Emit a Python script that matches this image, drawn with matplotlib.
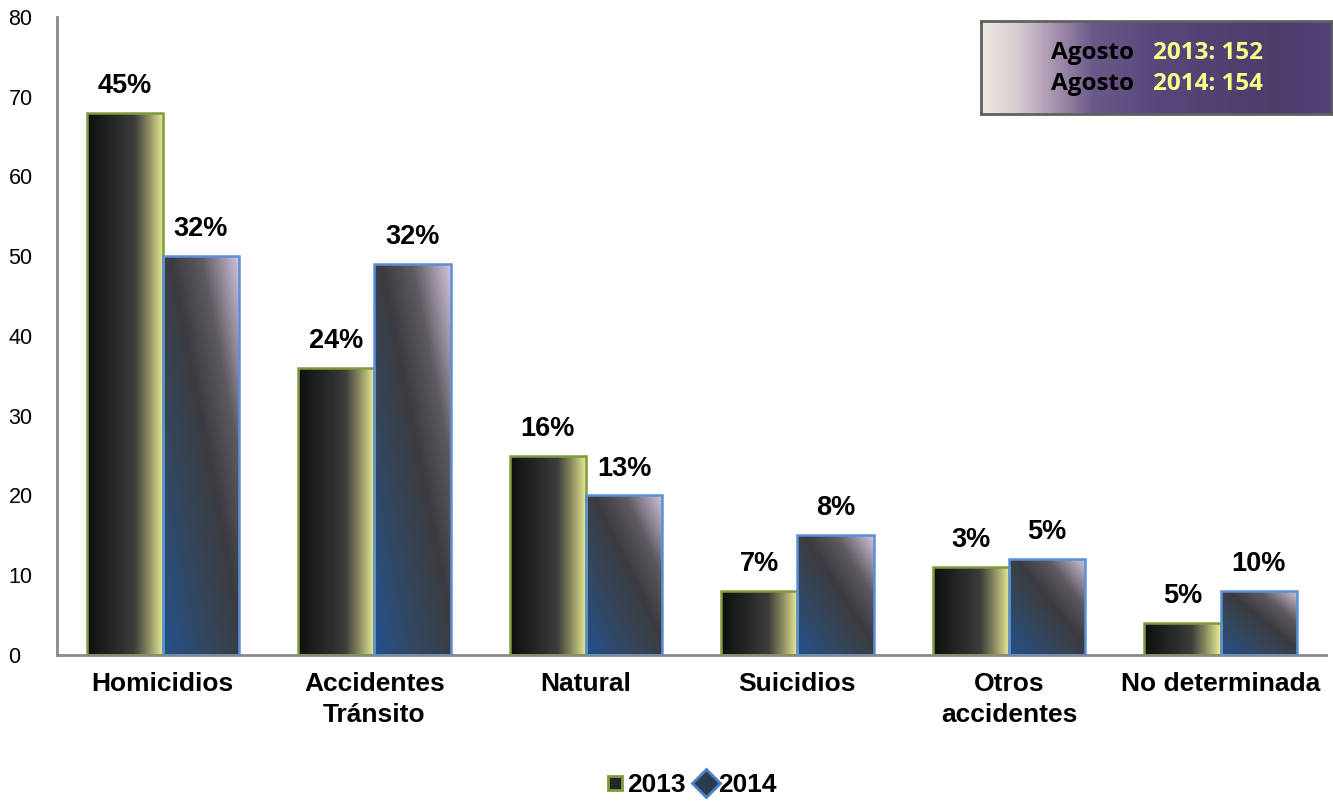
import numpy as np
import matplotlib.pyplot as plt
from matplotlib.colors import LinearSegmentedColormap
from matplotlib.lines import Line2D

# Data
categories = ["Homicidios", "Accidentes\nTránsito", "Natural", "Suicidios",
              "Otros\naccidentes", "No determinada"]
values_2013 = [68, 36, 25, 8, 11, 4]
values_2014 = [50, 49, 20, 15, 12, 8]
labels_2013 = ["45%", "24%", "16%", "7%", "3%", "5%"]
labels_2014 = ["32%", "32%", "13%", "8%", "5%", "10%"]
totals = ["2013: 152", "2014: 154"]

plt.rcParams['font.family'] = ['Liberation Sans', 'DejaVu Sans']

cmap_2013 = LinearSegmentedColormap.from_list(
    "c2013", [(0, "#0e0e0e"), (0.45, "#2e3030"), (0.62, "#3e3e3c"),
              (0.8, "#8a8a62"), (1.0, "#ecec96")])
cmap_2014 = LinearSegmentedColormap.from_list(
    "c2014", [(0, "#23508c"), (0.3, "#34475e"), (0.55, "#3c3c40"),
              (0.75, "#5e5a60"), (1.0, "#d0c2dc")])
cmap_box = LinearSegmentedColormap.from_list(
    "cbox", [(0, "#ece8e0"), (0.1, "#d8ccd0"), (0.22, "#a08caa"),
             (0.32, "#6a5888"), (0.5, "#58487a"), (0.85, "#4c3c6a"),
             (1.0, "#52427a")])

fig = plt.figure(figsize=(13.33, 8.1), dpi=100)
ax = fig.add_axes([0.0428, 0.1914, 0.9522, 0.7876])

x = np.arange(len(categories))
w = 0.36
bars13 = ax.bar(x - w / 2, values_2013, w, facecolor="none",
                edgecolor="#7f9c3c", linewidth=1.8, zorder=3)
bars14 = ax.bar(x + w / 2, values_2014, w, facecolor="none",
                edgecolor="#5a90d8", linewidth=1.8, zorder=3)

# gradient fills
u = np.linspace(0, 1, 200)
grad13 = np.tile(u, (2, 1))
uu, vv = np.meshgrid(np.linspace(0, 1, 100), np.linspace(0, 1, 100))
grad14 = (uu + vv) / 2  # origin lower -> top right is 1

for b in bars13:
    im = ax.imshow(grad13, cmap=cmap_2013, aspect="auto", origin="lower",
                   extent=[b.get_x(), b.get_x() + b.get_width(), 0, b.get_height()],
                   zorder=2)
    im.set_clip_path(b)
for b in bars14:
    im = ax.imshow(grad14, cmap=cmap_2014, aspect="auto", origin="lower",
                   extent=[b.get_x(), b.get_x() + b.get_width(), 0, b.get_height()],
                   zorder=2)
    im.set_clip_path(b)

for b, lab in zip(bars13, labels_2013):
    ax.annotate(lab, (b.get_x() + b.get_width() / 2, b.get_height()),
                xytext=(0, 10), textcoords="offset points", ha="center",
                va="bottom", fontsize=19.5, fontweight="bold")
for b, lab in zip(bars14, labels_2014):
    ax.annotate(lab, (b.get_x() + b.get_width() / 2, b.get_height()),
                xytext=(0, 10), textcoords="offset points", ha="center",
                va="bottom", fontsize=19.5, fontweight="bold")

ax.set_xlim(-0.5, len(categories) - 0.5)
ax.set_ylim(0, 80)
ax.set_yticks(range(0, 81, 10))
ax.set_xticks(x)
ax.set_xticklabels(categories, fontsize=19, fontweight="bold", linespacing=1.4)
ax.tick_params(axis="x", length=0, pad=12)
ax.tick_params(axis="y", length=0, pad=35, labelsize=15.5)
for t in ax.get_yticklabels():
    t.set_horizontalalignment("left")

for s in ["top", "right"]:
    ax.spines[s].set_visible(False)
for s in ["left", "bottom"]:
    ax.spines[s].set_color("#898989")
    ax.spines[s].set_linewidth(2)

# legend
handles = [
    Line2D([], [], linestyle="none", marker="s", markersize=10,
           markerfacecolor="#262626", markeredgecolor="#7f9c3c", markeredgewidth=2),
    Line2D([], [], linestyle="none", marker="D", markersize=14,
           markerfacecolor="#2e3a50", markeredgecolor="#4a80c8", markeredgewidth=2),
]
fig.legend(handles, ["2013", "2014"], loc="center", bbox_to_anchor=(0.518, 0.031),
           ncol=2, frameon=False, handlelength=0.8, handletextpad=0.05,
           columnspacing=0.4, prop={"weight": "bold", "size": 19})

# totals box
bax = fig.add_axes([981 / 1333, 1 - 114 / 810, 351 / 1333, 93 / 810])
bax.imshow(np.tile(np.linspace(0, 1, 300), (2, 1)), cmap=cmap_box,
           aspect="auto", extent=[0, 1, 0, 1])
bax.set_xlim(0, 1)
bax.set_ylim(0, 1)
bax.set_xticks([])
bax.set_yticks([])
for s in bax.spines.values():
    s.set_color("#606060")
    s.set_linewidth(2)
for yy, tot in zip([0.66, 0.32], totals):
    bax.text(0.435, yy, "Agosto", ha="right", va="center", fontsize=17.5,
             fontweight="bold", family="Open Sans", color="black")
    bax.text(0.49, yy, tot, ha="left", va="center", fontsize=17.5,
             fontweight="bold", family="Open Sans", color="#ffff8c")

fig.savefig("out.png", dpi=100)
